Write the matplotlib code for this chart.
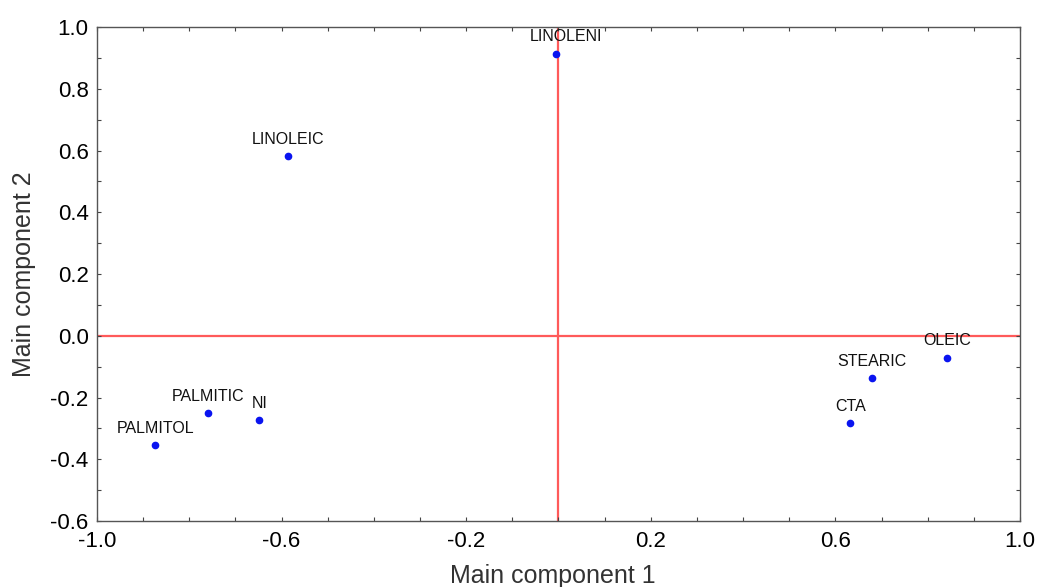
import matplotlib.pyplot as plt
import matplotlib.ticker as ticker
import numpy as np

plt.rcParams['font.family'] = ['Liberation Sans', 'DejaVu Sans']

names = ['LINOLENI', 'LINOLEIC', 'PALMITIC', 'NI', 'PALMITOL', 'CTA', 'STEARIC', 'OLEIC']
comp1 = [-0.005, -0.586, -0.759, -0.649, -0.874, 0.632, 0.679, 0.842]
comp2 = [0.913, 0.582, -0.251, -0.273, -0.354, -0.283, -0.137, -0.072]
# label shift in pixels, per point
shift_x = [10, 0, 0, 1, 0, 0, 0, 0]

fig = plt.figure(figsize=(10.37, 5.87), dpi=100)
ax = fig.add_axes([0.0935, 0.1124, 0.8901, 0.8416])

ax.axhline(0, color='#ff5a5a', lw=1.6, zorder=1)
ax.axvline(0, color='#ff5a5a', lw=1.6, zorder=1)
ax.plot(comp1, comp2, 'o', color='#0a14f0', markersize=4.5, zorder=3)

for n, x, y, dx in zip(names, comp1, comp2, shift_x):
    ax.annotate(n, (x, y), xytext=(dx, 17), textcoords='offset pixels',
                ha='center', va='center', fontsize=11.5, color='#111111')

ax.set_xlim(-1.0, 1.0)
ax.set_ylim(-0.6, 1.0)
ax.set_xticks(np.arange(-1.0, 1.01, 0.4))
ax.set_yticks(np.arange(-0.6, 1.01, 0.2))
ax.xaxis.set_minor_locator(ticker.MultipleLocator(0.1))
ax.yaxis.set_minor_locator(ticker.MultipleLocator(0.1))
ax.xaxis.set_major_formatter(ticker.FormatStrFormatter('%.1f'))
ax.yaxis.set_major_formatter(ticker.FormatStrFormatter('%.1f'))
ax.tick_params(which='both', direction='in', length=3, width=0.8, color='#444444',
               labelsize=16, top=True, right=True)
ax.tick_params(axis='x', pad=7)
ax.tick_params(axis='y', pad=6)
for s in ax.spines.values():
    s.set_color('#555555')
    s.set_linewidth(1.0)

ax.set_xlabel('Main component 1', fontsize=18, color='#333333')
ax.set_ylabel('Main component 2', fontsize=18, color='#333333')
ax.xaxis.set_label_coords(0.494, -0.086)
ax.yaxis.set_label_coords(-0.066, 0.5)

fig.savefig('out.png', dpi=100)
